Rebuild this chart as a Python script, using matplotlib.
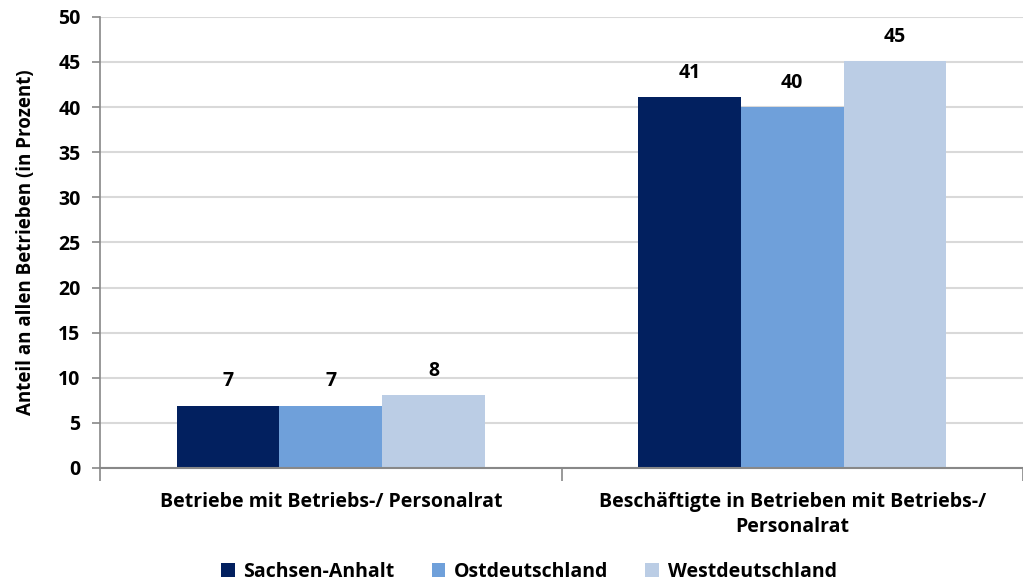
import matplotlib.pyplot as plt
import numpy as np

plt.rcParams['font.family'] = ['Open Sans', 'DejaVu Sans']
plt.rcParams['font.weight'] = 'bold'

categories = ['Betriebe mit Betriebs-/ Personalrat',
              'Beschäftigte in Betrieben mit Betriebs-/\nPersonalrat']
series = ['Sachsen-Anhalt', 'Ostdeutschland', 'Westdeutschland']
values = {
    'Sachsen-Anhalt': [6.9, 41.1],
    'Ostdeutschland': [6.9, 40.0],
    'Westdeutschland': [8.1, 45.1],
}
labels = {
    'Sachsen-Anhalt': ['7', '41'],
    'Ostdeutschland': ['7', '40'],
    'Westdeutschland': ['8', '45'],
}
colors = ['#02205F', '#6FA0DA', '#BBCDE5']

fig = plt.figure(figsize=(10.23, 5.82), dpi=100)
ax = fig.add_axes([0.0978, 0.196, 0.9022, 0.775])

x = np.arange(len(categories))
width = 0.2227
for i, (name, col) in enumerate(zip(series, colors)):
    pos = x + (i - 1) * width
    bars = ax.bar(pos, values[name], width, color=col, label=name, zorder=3)
    for b, txt in zip(bars, labels[name]):
        ax.text(b.get_x() + b.get_width() / 2, b.get_height() + 2.7, txt,
                ha='center', va='center', fontsize=14, fontweight='bold')

ax.set_ylim(0, 50)
ax.set_yticks(range(0, 51, 5))
ax.set_xlim(-0.5, 1.482)
ax.set_xticks([-0.5, 0.5, 1.5])
ax.set_xticklabels([])
ax.set_xticks(x, minor=True)
ax.set_xticklabels(categories, minor=True, fontsize=14, fontweight='bold',
                   linespacing=1.35)
ax.tick_params(axis='x', which='minor', length=0, pad=17)
ax.tick_params(axis='x', which='major', length=9, color='#888888', width=1.2)
ax.tick_params(axis='y', length=6, color='#888888', width=1.2, labelsize=14,
               pad=8)
for t in ax.get_yticklabels():
    t.set_fontweight('bold')

ax.grid(axis='y', color='#D9D9D9', linewidth=1.5, zorder=0)
for s in ['top', 'right']:
    ax.spines[s].set_visible(False)
ax.spines['left'].set_color('#888888')
ax.spines['bottom'].set_color('#888888')
ax.spines['left'].set_linewidth(1.2)
ax.spines['bottom'].set_linewidth(1.5)
ax.spines['bottom'].set_zorder(4)

ax.set_ylabel('Anteil an allen Betrieben (in Prozent)', fontsize=13.5,
              fontweight='bold', labelpad=16)

fig.legend(loc='lower center', bbox_to_anchor=(0.517, -0.03), ncol=3,
           frameon=False, fontsize=14, handlelength=0.7, handleheight=0.7,
           handletextpad=0.45, columnspacing=1.9)

fig.savefig('out.png', dpi=100)
